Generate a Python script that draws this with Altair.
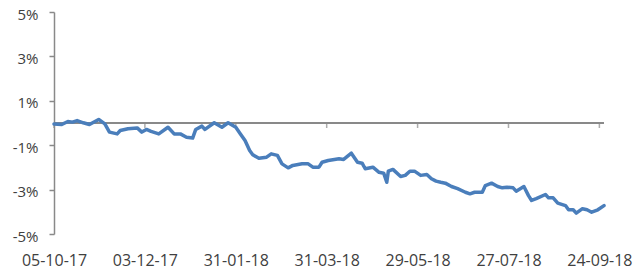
import altair as alt
import pandas as pd

dates = ["2017-10-05","2017-10-10","2017-10-14","2017-10-17","2017-10-20","2017-10-24","2017-10-28","2017-11-03","2017-11-07","2017-11-10",
         "2017-11-15","2017-11-17","2017-11-22","2017-11-28","2017-12-01","2017-12-04","2017-12-07","2017-12-12","2017-12-18","2017-12-22",
         "2017-12-26","2017-12-30","2018-01-03","2018-01-05","2018-01-09","2018-01-11","2018-01-17","2018-01-22","2018-01-26","2018-01-31",
         "2018-02-03","2018-02-06","2018-02-09","2018-02-11","2018-02-15","2018-02-20","2018-02-23","2018-02-27","2018-03-02","2018-03-06",
         "2018-03-09","2018-03-15","2018-03-19","2018-03-22","2018-03-26","2018-03-28","2018-04-01","2018-04-08","2018-04-11","2018-04-16",
         "2018-04-20","2018-04-23","2018-04-25","2018-04-30","2018-05-04","2018-05-07","2018-05-09","2018-05-10","2018-05-13","2018-05-18",
         "2018-05-21","2018-05-24","2018-05-27","2018-05-31","2018-06-04","2018-06-07","2018-06-10","2018-06-13","2018-06-16","2018-06-20",
         "2018-06-24","2018-06-29","2018-07-02","2018-07-05","2018-07-10","2018-07-12","2018-07-16","2018-07-20","2018-07-23","2018-07-26",
         "2018-07-30","2018-08-01","2018-08-06","2018-08-09","2018-08-11","2018-08-14","2018-08-20","2018-08-22","2018-08-25","2018-08-28",
         "2018-09-02","2018-09-04","2018-09-07","2018-09-09","2018-09-13","2018-09-16","2018-09-19","2018-09-23","2018-09-27"]

values = [-0.04,-0.07,0.07,0.04,0.11,0.01,-0.07,0.16,-0.04,-0.41,
          -0.49,-0.34,-0.26,-0.22,-0.41,-0.29,-0.38,-0.49,-0.19,-0.49,
          -0.49,-0.64,-0.68,-0.29,-0.14,-0.29,0.01,-0.19,0.01,-0.19,
          -0.49,-0.79,-1.24,-1.43,-1.59,-1.54,-1.39,-1.46,-1.84,-2.02,
          -1.91,-1.84,-1.84,-1.99,-1.99,-1.77,-1.69,-1.61,-1.64,-1.36,
          -1.77,-1.81,-2.06,-1.99,-2.22,-2.26,-2.67,-2.17,-2.09,-2.41,
          -2.36,-2.17,-2.17,-2.36,-2.32,-2.51,-2.62,-2.67,-2.71,-2.86,
          -2.96,-3.12,-3.19,-3.12,-3.12,-2.82,-2.71,-2.86,-2.92,-2.89,
          -2.92,-3.07,-2.86,-3.27,-3.49,-3.41,-3.22,-3.37,-3.37,-3.61,
          -3.72,-3.91,-3.91,-4.06,-3.86,-3.91,-4.02,-3.91,-3.72]

tick_dates = ["2017-10-05","2017-12-03","2018-01-31","2018-03-31","2018-05-29","2018-07-27","2018-09-24"]
y_ticks = [-5, -3, -1, 1, 3, 5]
x_start = "2017-10-05"
x_end = "2018-09-27"

df = pd.DataFrame({"date": dates, "value": values})
ticks_df = pd.DataFrame({"date": tick_dates})

FONT = "Open Sans"
GRAY = "#898989"
TEXT = "#404040"

def dt(s):
    y, m, d = (int(p) for p in s.split("-"))
    return alt.DateTime(year=y, month=m, date=d, utc=True)

x_scale = alt.Scale(type="utc", domain=[dt(x_start), dt(x_end)], nice=False)
y_scale = alt.Scale(domain=[-5, 5], nice=False, zero=False)

x_axis = alt.Axis(
    values=[dt(s) for s in tick_dates], labelExpr="utcFormat(datum.value, '%d-%m-%y')",
    domain=False, ticks=False, grid=False, labelPadding=18, labelFlush=False,
    labelOverlap=False, labelFont=FONT, labelFontSize=16, labelColor=TEXT, title=None,
)
y_axis = alt.Axis(
    values=y_ticks, labelExpr="datum.value + '%'", grid=False,
    domainColor=GRAY, domainWidth=1.5, tickColor=GRAY, tickWidth=1.5, tickSize=5,
    labelPadding=11, labelOffset=2, labelFont=FONT, labelFontSize=15, labelColor=TEXT, title=None,
)

line = alt.Chart(df).mark_line(color="#4a7ebb", strokeWidth=3.5, strokeJoin="round", strokeCap="round").encode(
    x=alt.X("date:T", scale=x_scale, axis=x_axis),
    y=alt.Y("value:Q", scale=y_scale, axis=y_axis),
)

zero = alt.Chart(df).mark_rule(color=GRAY, strokeWidth=1.8).encode(
    y=alt.Y(datum=0, scale=y_scale, axis=y_axis),
)

ticks = alt.Chart(ticks_df).mark_tick(color=GRAY, orient="vertical", size=5, thickness=1.5, yOffset=2.5).encode(
    x=alt.X("date:T", scale=x_scale, axis=x_axis),
    y=alt.Y(datum=0, scale=y_scale, axis=y_axis),
)

chart = alt.layer(zero, ticks, line).properties(
    width=550, height=222,
    autosize=alt.AutoSizeParams(type="none"),
    padding={"left": 46, "top": 4, "right": 30, "bottom": 40},
).configure_view(stroke=None)

chart.save("out.html", embed_options={"renderer": "svg", "actions": False})
